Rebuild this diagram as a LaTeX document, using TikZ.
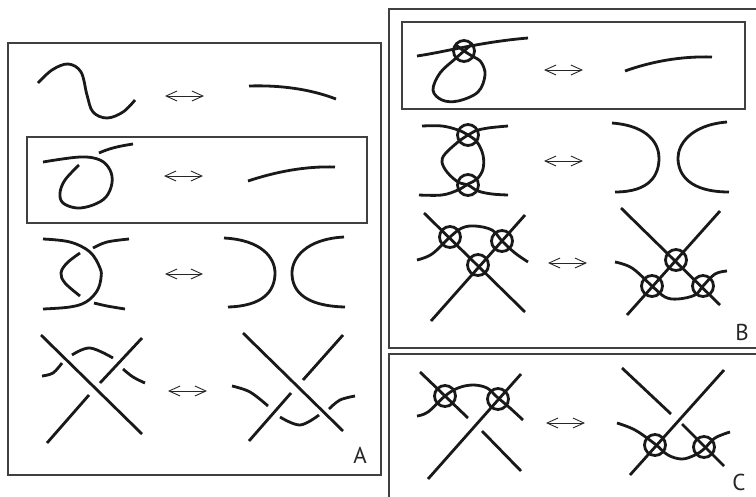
\documentclass[tikz,border=0pt]{standalone}
\usepackage{fontspec}
\setmainfont{PT Sans}
\usetikzlibrary{arrows.meta}
\tikzset{
  strand/.style={line width=2.8pt, draw=black!90},
  sm/.style={strand, smooth, tension=0.6},
  frame/.style={line width=1.3pt, draw=black!75},
  vc/.style={strand},
  dbl/.style={line width=0.9pt, draw=black!85, {Straight Barb[length=11pt,width=10pt]}-{Straight Barb[length=11pt,width=10pt]}},
  lbl/.style={inner sep=0pt, font=\fontsize{23}{23}\selectfont, text=black!85}
}
\begin{document}
\begin{tikzpicture}[x=1pt,y=-1pt]
\useasboundingbox (0,0) rectangle (756,496);
% ---------- frames ----------
\draw[frame] (8,43) rectangle (381,475);
\draw[frame] (27,137) rectangle (367,223);
\draw[frame] (389,9) rectangle (762,348);
\draw[frame] (402,22) rectangle (745,109);
\draw[frame] (389,354) rectangle (762,502);
% ---------- arrows ----------
\coordinate (a1l) at (165,96);  \coordinate (a1r) at (204,96);
\coordinate (a2l) at (164,176); \coordinate (a2r) at (203,176);
\coordinate (a3l) at (165,274); \coordinate (a3r) at (203,274);
\coordinate (a4l) at (168,391); \coordinate (a4r) at (207,391);
\coordinate (b1l) at (544,70);  \coordinate (b1r) at (583,70);
\coordinate (b2l) at (544,161); \coordinate (b2r) at (583,161);
\coordinate (b3l) at (548,263); \coordinate (b3r) at (587,263);
\coordinate (c1l) at (546,423); \coordinate (c1r) at (585,423);
\foreach \p in {a1,a2,a3,a4,b1,b2,b3,c1} \draw[dbl] (\p l) -- (\p r);
% ---------- A row 1 ----------
\draw[sm] plot coordinates {(38,83) (52,70) (68,64) (81,72) (87,95) (93,112) (107,118) (123,112) (135,100)};
\draw[strand] (249,86) .. controls (280,85) and (310,89) .. (336,99);
% ---------- A row 2 ----------
\draw[sm] plot coordinates {(43,162) (80,157) (100,160) (110,170) (112,183) (106,197) (93,205) (77,208) (63,203) (60,193) (65,180) (79,165)};
\draw[strand] (99,153) .. controls (110,148) and (120,146) .. (133,144);
\draw[strand] (248,181) .. controls (275,172) and (305,166) .. (335,167);
% ---------- A row 3 ----------
\draw[sm] plot coordinates {(43,239) (70,242) (90,252) (100,268) (101,278) (97,291) (86,302) (70,307) (43,309)};
\draw[sm] plot coordinates {(93,248) (107,242) (129,239)};
\draw[sm] plot coordinates {(80,253) (67,263) (61,273) (65,283) (80,296)};
\draw[sm] plot coordinates {(94,303) (107,306) (125,309)};
\draw[strand] (224,238) .. controls (262,240) and (275,258) .. (275,273) .. controls (275,292) and (262,306) .. (228,307);
\draw[strand] (344,237) .. controls (306,239) and (292,258) .. (292,273) .. controls (292,292) and (306,306) .. (345,307);
% ---------- A row 4 ----------
\draw[strand] (41,335) -- (142,434);
\draw[strand] (142,338) -- (100,383);
\draw[strand] (89,395) -- (47,443);
\draw[sm] plot coordinates {(42,376) (53,373) (62,363)};
\draw[sm] plot coordinates {(72,355) (90,348) (113,358)};
\draw[sm] plot coordinates {(123,369) (133,377) (145,383)};
\draw[strand] (243,333) -- (343,431);
\draw[strand] (343,335) -- (303,380);
\draw[strand] (291,393) -- (249,441);
\draw[sm] plot coordinates {(232,386) (250,392) (268,406)};
\draw[sm] plot coordinates {(280,417) (300,425) (319,415)};
\draw[sm] plot coordinates {(329,409) (340,400) (355,396)};
\node[lbl] (labA) at (360,455) {A};
% ---------- B row 1 ----------
\draw[strand] (417,56) .. controls (445,52) and (480,42) .. (528,38);
\draw[sm] plot coordinates {(472,44) (464,51) (455,59) (440,73) (433,90) (442,100) (458,101) (478,92) (485,75) (481,62) (472,56) (464,51) (456,45)};
\draw[vc] (464,51) circle[radius=10.5pt];
\draw[strand] (625,71) .. controls (650,62) and (680,56) .. (712,57);
% ---------- B row 2 ----------
\draw[sm] plot coordinates {(422,126) (442,126) (458,130) (468,135) (477,142) (483,155) (483,169) (477,179) (468,184) (458,190) (442,195) (419,195)};
\draw[sm] plot coordinates {(508,126) (488,128) (475,131) (468,135) (458,142) (445,154) (442,162) (447,172) (458,182) (468,185) (478,191) (492,194) (508,195)};
\draw[vc] (468,135) circle[radius=10.5pt];
\draw[vc] (468,185) circle[radius=10.5pt];
\draw[strand] (612,123) .. controls (650,126) and (659,145) .. (659,158) .. controls (659,175) and (650,192) .. (615,192);
\draw[strand] (727,122) .. controls (690,125) and (678,145) .. (678,158) .. controls (678,175) and (690,192) .. (729,192);
% ---------- B row 3 ----------
\draw[strand] (424,213) -- (525,312);
\draw[strand] (525,215) -- (431,321);
\draw[sm] plot coordinates {(417,260) (432,254) (450,237) (462,228) (475,226) (492,230) (502,241) (515,253) (528,262)};
\draw[vc] (450,237) circle[radius=10.5pt];
\draw[vc] (502,241) circle[radius=10.5pt];
\draw[vc] (478,265) circle[radius=10.5pt];
\draw[strand] (621,208) -- (720,305);
\draw[strand] (720,211) -- (627,315);
\draw[sm] plot coordinates {(615,262) (632,268) (652,286) (665,297) (678,299) (695,295) (703,286) (715,274) (727,271)};
\draw[vc] (652,286) circle[radius=10.5pt];
\draw[vc] (703,286) circle[radius=10.5pt];
\draw[vc] (676,260) circle[radius=10.5pt];
\node[lbl] (labB) at (742,332) {B};
% ---------- C ----------
\draw[strand] (420,372) -- (468,418);
\draw[strand] (482,431) -- (521,471);
\draw[strand] (521,374) -- (428,479);
\draw[sm] plot coordinates {(417,416) (428,412) (445,396) (458,388) (473,385) (487,388) (497,397) (510,408) (523,420)};
\draw[vc] (445,396) circle[radius=10.5pt];
\draw[vc] (498,399) circle[radius=10.5pt];
\draw[strand] (622,368) -- (671,414);
\draw[strand] (682,424) -- (724,466);
\draw[strand] (724,370) -- (630,475);
\draw[sm] plot coordinates {(617,423) (635,430) (655,444) (668,455) (682,459) (695,455) (704,449) (715,438) (730,432)};
\draw[vc] (655,445) circle[radius=10.5pt];
\draw[vc] (704,447) circle[radius=10.5pt];
\node[lbl] (labC) at (739,482) {C};
\end{tikzpicture}
\end{document}
